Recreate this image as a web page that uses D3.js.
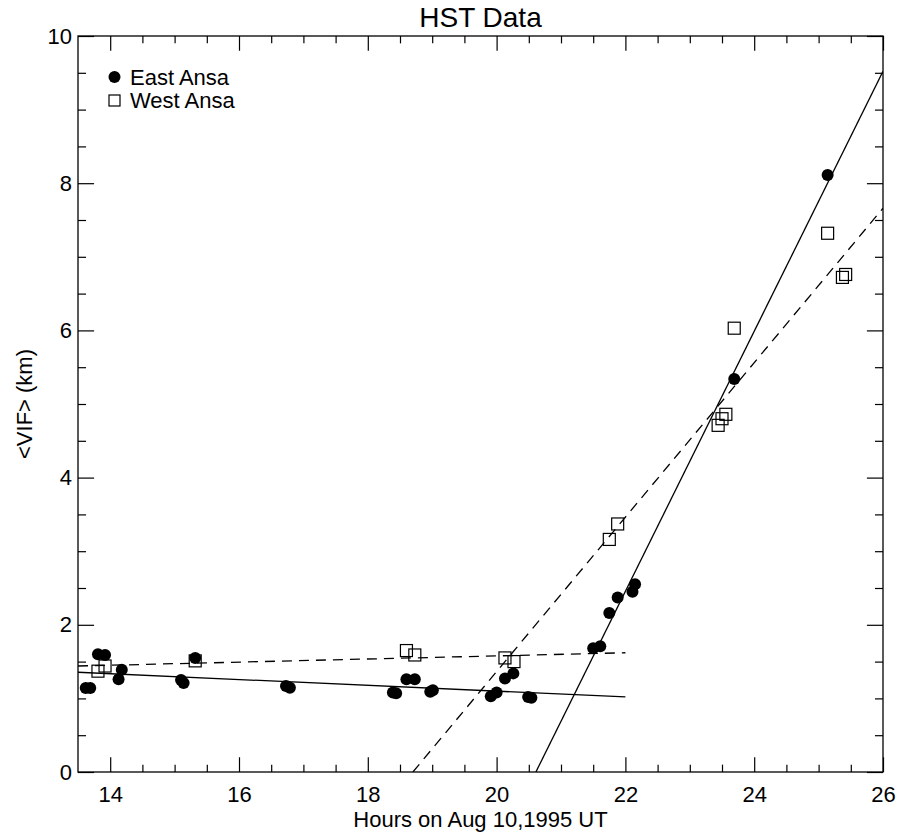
<!DOCTYPE html>
<html>
<head>
<meta charset="utf-8">
<script src="https://cdn.jsdelivr.net/npm/d3@7"></script>
<style>
  body { margin: 0; background: #fff; }
  svg text { font-family: "Liberation Sans", Arial, Helvetica, sans-serif; fill: #000; }
</style>
</head>
<body>
<script>
// East Ansa (filled circles): hours UT, <VIF> km
const eastHours = [13.62, 13.69, 13.81, 13.92, 14.13, 14.18, 15.10, 15.14, 15.32, 16.73, 16.79,
  18.39, 18.44, 18.60, 18.73, 18.97, 19.01, 19.91, 20.00, 20.13, 20.26, 20.49, 20.54,
  21.50, 21.61, 21.75, 21.88, 22.11, 22.15, 23.69, 25.14];
const eastVif = [1.14, 1.14, 1.60, 1.59, 1.26, 1.39, 1.25, 1.21, 1.55, 1.17, 1.145,
  1.08, 1.07, 1.26, 1.26, 1.09, 1.11, 1.03, 1.08, 1.27, 1.34, 1.02, 1.01,
  1.68, 1.71, 2.16, 2.37, 2.45, 2.55, 5.34, 8.11];

// West Ansa (open squares)
const westHours = [13.81, 13.92, 15.32, 18.60, 18.73, 20.13, 20.27, 21.75, 21.88,
  23.44, 23.50, 23.56, 23.69, 25.14, 25.37, 25.42];
const westVif = [1.37, 1.44, 1.51, 1.65, 1.59, 1.55, 1.50, 3.16, 3.37,
  4.71, 4.80, 4.86, 6.03, 7.32, 6.72, 6.76];

// fitted lines: [x0, x1], [y0, y1]
const eastLowX = [13.5, 22], eastLowY = [1.355, 1.02];
const eastHighX = [20.61, 26], eastHighY = [0, 9.52];
const westLowX = [13.5, 22], westLowY = [1.44, 1.62];
const westHighX = [18.70, 26], westHighY = [0, 7.66];

const xMajor = [14, 16, 18, 20, 22, 24, 26];
const yMajor = [0, 2, 4, 6, 8, 10];
const xMinor = d3.range(14, 26.01, 0.5).filter(v => !xMajor.includes(v));
const yMinor = d3.range(0, 10.01, 0.5).filter(v => !yMajor.includes(v));

const width = 900, height = 836;
const marginLeft = 78, marginRight = 17, marginTop = 36, marginBottom = 64;
const innerW = width - marginLeft - marginRight;
const innerH = height - marginTop - marginBottom;

const x = d3.scaleLinear().domain([13.5, 26]).range([marginLeft, width - marginRight]);
const y = d3.scaleLinear().domain([0, 10]).range([height - marginBottom, marginTop]);

const svg = d3.select("body").append("svg")
  .attr("width", width)
  .attr("height", height);

svg.append("defs").append("clipPath").attr("id", "plot")
  .append("rect")
  .attr("x", marginLeft).attr("y", marginTop)
  .attr("width", innerW).attr("height", innerH);

const xTickLen = innerH * 0.02;   // vertical ticks
const yTickLen = innerW * 0.02;   // horizontal ticks

function styleAxis(g) {
  g.select(".domain").remove();
  g.selectAll(".tick line").attr("stroke", "#000").attr("stroke-width", 1.2);
}

// bottom axis (labels) + minor
svg.append("g")
  .attr("transform", `translate(0,${height - marginBottom})`)
  .call(d3.axisBottom(x).tickValues(xMajor).tickSize(-xTickLen).tickPadding(14).tickFormat(d3.format("d")))
  .call(styleAxis)
  .selectAll("text").attr("font-size", 22);
svg.append("g")
  .attr("transform", `translate(0,${height - marginBottom})`)
  .call(d3.axisBottom(x).tickValues(xMinor).tickSize(-xTickLen / 2).tickFormat(""))
  .call(styleAxis);

// top axis (no labels)
svg.append("g")
  .attr("transform", `translate(0,${marginTop})`)
  .call(d3.axisTop(x).tickValues(xMajor).tickSize(-xTickLen).tickFormat(""))
  .call(styleAxis);
svg.append("g")
  .attr("transform", `translate(0,${marginTop})`)
  .call(d3.axisTop(x).tickValues(xMinor).tickSize(-xTickLen / 2).tickFormat(""))
  .call(styleAxis);

// left axis (labels) + minor
svg.append("g")
  .attr("transform", `translate(${marginLeft},0)`)
  .call(d3.axisLeft(y).tickValues(yMajor).tickSize(-yTickLen).tickPadding(6).tickFormat(d3.format("d")))
  .call(styleAxis)
  .selectAll("text").attr("font-size", 22);
svg.append("g")
  .attr("transform", `translate(${marginLeft},0)`)
  .call(d3.axisLeft(y).tickValues(yMinor).tickSize(-yTickLen / 2).tickFormat(""))
  .call(styleAxis);

// right axis (no labels)
svg.append("g")
  .attr("transform", `translate(${width - marginRight},0)`)
  .call(d3.axisRight(y).tickValues(yMajor).tickSize(-yTickLen).tickFormat(""))
  .call(styleAxis);
svg.append("g")
  .attr("transform", `translate(${width - marginRight},0)`)
  .call(d3.axisRight(y).tickValues(yMinor).tickSize(-yTickLen / 2).tickFormat(""))
  .call(styleAxis);

// frame
svg.append("rect")
  .attr("x", marginLeft).attr("y", marginTop)
  .attr("width", innerW).attr("height", innerH)
  .attr("fill", "none").attr("stroke", "#000").attr("stroke-width", 1.3);

// fit lines
const line = d3.line().x(d => x(d[0])).y(d => y(d[1]));
const fits = [
  { xs: eastLowX, ys: eastLowY, dash: null },
  { xs: eastHighX, ys: eastHighY, dash: null },
  { xs: westLowX, ys: westLowY, dash: "10,7" },
  { xs: westHighX, ys: westHighY, dash: "10,7" }
];
svg.append("g").attr("clip-path", "url(#plot)")
  .selectAll("path")
  .data(fits)
  .join("path")
  .attr("d", d => line(d.xs.map((v, i) => [v, d.ys[i]])))
  .attr("fill", "none")
  .attr("stroke", "#000")
  .attr("stroke-width", 1.3)
  .attr("stroke-dasharray", d => d.dash);

// East Ansa points
svg.append("g")
  .selectAll("circle")
  .data(eastHours.map((h, i) => [h, eastVif[i]]))
  .join("circle")
  .attr("cx", d => x(d[0]))
  .attr("cy", d => y(d[1]))
  .attr("r", 6)
  .attr("fill", "#000");

// West Ansa points
const sq = 12;
svg.append("g")
  .selectAll("rect")
  .data(westHours.map((h, i) => [h, westVif[i]]))
  .join("rect")
  .attr("x", d => x(d[0]) - sq / 2)
  .attr("y", d => y(d[1]) - sq / 2)
  .attr("width", sq)
  .attr("height", sq)
  .attr("fill", "none")
  .attr("stroke", "#000")
  .attr("stroke-width", 1.2);

// legend
const legend = svg.append("g");
legend.append("circle").attr("cx", 114.5).attr("cy", 77).attr("r", 6).attr("fill", "#000");
legend.append("text").attr("x", 130).attr("y", 84.5).attr("font-size", 22).text("East Ansa");
legend.append("rect").attr("x", 114.5 - 5.5).attr("y", 100.5 - 5.5).attr("width", 11).attr("height", 11)
  .attr("fill", "none").attr("stroke", "#000").attr("stroke-width", 1.2);
legend.append("text").attr("x", 130).attr("y", 107.5).attr("font-size", 22).text("West Ansa");

// titles
svg.append("text")
  .attr("x", (marginLeft + width - marginRight) / 2)
  .attr("y", 27)
  .attr("text-anchor", "middle")
  .attr("font-size", 28)
  .text("HST Data");

svg.append("text")
  .attr("x", (marginLeft + width - marginRight) / 2)
  .attr("y", 827)
  .attr("text-anchor", "middle")
  .attr("font-size", 22)
  .text("Hours on Aug 10,1995 UT");

svg.append("text")
  .attr("transform", `translate(32,${(marginTop + height - marginBottom) / 2}) rotate(-90)`)
  .attr("text-anchor", "middle")
  .attr("font-size", 22)
  .text("<VIF> (km)");
</script>
</body>
</html>
